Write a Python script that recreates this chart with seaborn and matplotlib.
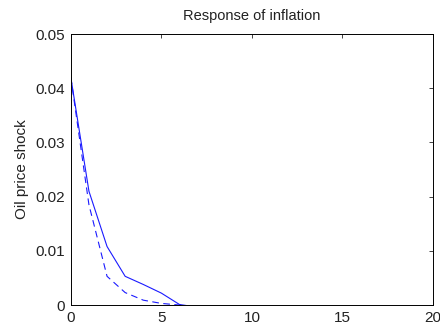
import numpy as np
import pandas as pd
import seaborn as sns
import matplotlib
matplotlib.use('Agg')
import matplotlib.pyplot as plt

# impulse response values
horizon = list(range(0, 21))
solid_vals = [0.042, 0.021, 0.0108, 0.0053, 0.0038, 0.0022, 0.0001,
              -0.0004, -0.0006, -0.0006, -0.0005, -0.0004, -0.0004, -0.0003,
              -0.0003, -0.0002, -0.0002, -0.0002, -0.0001, -0.0001, -0.0001]
dashed_vals = [0.042, 0.0185, 0.0053, 0.0023, 0.0009, 0.0003, 0.0000,
               -0.0003, -0.0004, -0.0004, -0.0004, -0.0003, -0.0003, -0.0002,
               -0.0002, -0.0002, -0.0001, -0.0001, -0.0001, -0.0001, -0.0001]

x_ticks = [0, 5, 10, 15, 20]
y_ticks = [0, 0.01, 0.02, 0.03, 0.04, 0.05]
y_tick_labels = ['0', '0.01', '0.02', '0.03', '0.04', '0.05']

df = pd.DataFrame({
    'h': horizon * 2,
    'resp': solid_vals + dashed_vals,
    'series': ['solid'] * len(horizon) + ['dashed'] * len(horizon),
})

sns.set_style('white')
plt.rcParams['font.family'] = ['Liberation Sans', 'DejaVu Sans']

fig = plt.figure(figsize=(4.4, 3.28), dpi=100)
ax = fig.add_axes([0.161, 0.070, 0.823, 0.826])

sns.lineplot(data=df, x='h', y='resp', style='series',
             style_order=['solid', 'dashed'],
             dashes={'solid': '', 'dashed': (6, 4)},
             color='#1a1aff', linewidth=0.8, legend=False, ax=ax)

ax.set_xlim(0, 20)
ax.set_ylim(0, 0.05)
ax.set_xticks(x_ticks)
ax.set_xticklabels([str(t) for t in x_ticks])
ax.set_yticks(y_ticks)
ax.set_yticklabels(y_tick_labels)
ax.tick_params(direction='in', top=True, right=True, length=3, width=0.6,
               labelsize=11, colors='#222222', pad=4)
ax.set_xlabel('')
ax.set_ylabel('Oil price shock', fontsize=11, labelpad=5, color='#222222')
ax.set_title('Response of inflation', fontsize=10.5, pad=10, color='#222222')
for s in ax.spines.values():
    s.set_color('black')
    s.set_linewidth(0.7)

plt.savefig('out.png', dpi=100)
